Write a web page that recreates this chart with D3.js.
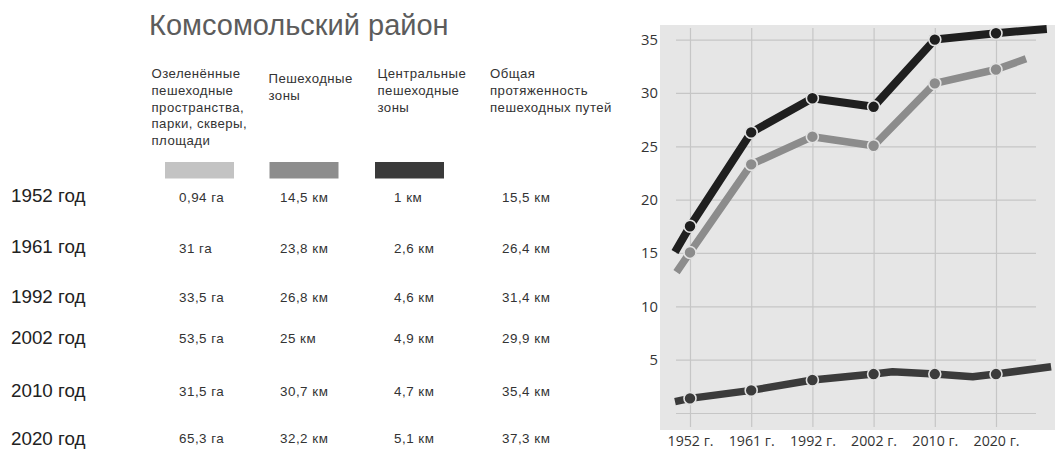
<!DOCTYPE html>
<html lang="ru">
<head>
<meta charset="utf-8">
<script src="https://cdn.jsdelivr.net/npm/d3@7/dist/d3.min.js"></script>
<style>
  html, body { margin: 0; padding: 0; background: #fff; }
  svg { display: block; }
</style>
</head>
<body>
<svg id="chart" width="1055" height="449"></svg>
<script>
// ---- Table data ----
const rowYears = ["1952 год", "1961 год", "1992 год", "2002 год", "2010 год", "2020 год"];
const greenSpacesHa = [0.94, 31, 33.5, 53.5, 31.5, 65.3];
const pedestrianZonesKm = [14.5, 23.8, 26.8, 25, 30.7, 32.2];
const centralZonesKm = [1, 2.6, 4.6, 4.9, 4.7, 5.1];
const totalPathsKm = [15.5, 26.4, 31.4, 29.9, 35.4, 37.3];

const columnHeaders = [
  ["Озеленённые", "пешеходные", "пространства,", "парки, скверы,", "площади"],
  ["Пешеходные", "зоны"],
  ["Центральные", "пешеходные", "зоны"],
  ["Общая", "протяженность", "пешеходных путей"]
];

// ---- Chart data: [position on year axis, value]; whole positions carry a marker ----
const xTickLabels = ["1952 г.", "1961 г.", "1992 г.", "2002 г.", "2010 г.", "2020 г."];
const yTickValues = [5, 10, 15, 20, 25, 30, 35];
const totalLine = [[-0.245, 15.1], [0, 17.5], [1, 26.3], [2, 29.5], [3, 28.7], [4, 35.0], [5, 35.6], [5.83, 36.0]];
const pedestrianLine = [[-0.22, 13.2], [0, 15.05], [1, 23.3], [2, 25.9], [3, 25.05], [4, 30.9], [5, 32.2], [5.49, 33.2]];
const centralLine = [[-0.245, 1.06], [0, 1.37], [1, 2.12], [2, 3.09], [3, 3.65], [3.31, 3.87], [4, 3.65], [4.62, 3.4], [5, 3.65], [5.9, 4.34]];

const svg = d3.select("#chart");
const leftFont = "'Liberation Sans', Arial, sans-serif";
const chartFont = "'Open Sans', 'Noto Sans', sans-serif";
const fmt = v => String(v).replace(".", ",");

// ---- Title ----
svg.append("text")
  .attr("x", 149).attr("y", 35)
  .attr("font-family", leftFont).attr("font-size", 29)
  .attr("fill", "#5c5c5c")
  .text("Комсомольский район");

// ---- Column headers ----
const headerX = [151.5, 268.5, 377.5, 490];
const headerTop = [78.3, 83.3, 78.3, 78.3];
const headerG = svg.append("g")
  .attr("font-family", leftFont).attr("font-size", 13.2)
  .attr("letter-spacing", 0.45).attr("fill", "#333");
columnHeaders.forEach((lines, c) => {
  const t = headerG.append("text").attr("x", headerX[c]).attr("y", headerTop[c]);
  lines.forEach((ln, i) => {
    t.append("tspan").attr("x", headerX[c]).attr("dy", i === 0 ? 0 : 16.6).text(ln);
  });
});

// ---- Legend swatches ----
const swatchColors = ["#c3c3c3", "#8d8d8d", "#3a3a3a"];
const swatchX = [165, 269.5, 375];
svg.append("g").selectAll("rect")
  .data(swatchColors)
  .join("rect")
  .attr("x", (d, i) => swatchX[i]).attr("y", 162)
  .attr("width", 69).attr("height", 16.5)
  .attr("fill", d => d);

// ---- Table rows ----
const yearBaseline = [201.7, 253.3, 302.6, 344, 396.6, 444.5];
const valueBaseline = [201.5, 253, 302.2, 342.8, 395.6, 442.5];
const valueX = [179, 280, 394, 502];
const columns = [
  greenSpacesHa.map(v => fmt(v) + " га"),
  pedestrianZonesKm.map(v => fmt(v) + " км"),
  centralZonesKm.map(v => fmt(v) + " км"),
  totalPathsKm.map(v => fmt(v) + " км")
];
const tableG = svg.append("g").attr("font-family", leftFont);
tableG.selectAll("text.year")
  .data(rowYears)
  .join("text")
  .attr("class", "year")
  .attr("x", 11).attr("y", (d, i) => yearBaseline[i])
  .attr("font-size", 18.8).attr("fill", "#222")
  .text(d => d);
columns.forEach((col, c) => {
  tableG.selectAll("text.c" + c)
    .data(col)
    .join("text")
    .attr("class", "c" + c)
    .attr("x", valueX[c]).attr("y", (d, i) => valueBaseline[i])
    .attr("font-size", 13.4).attr("letter-spacing", 0.5).attr("fill", "#333")
    .text(d => d);
});

// ---- Line chart ----
const x = d3.scaleLinear().domain([0, 5]).range([690, 996]);
const y = d3.scaleLinear().domain([0, 35]).range([413, 39.6]);

svg.append("rect")
  .attr("x", 660).attr("y", 25).attr("width", 395).attr("height", 405)
  .attr("fill", "#e6e6e6");

// Horizontal grid (including the unlabeled zero line)
svg.append("g")
  .attr("transform", "translate(676,0)")
  .call(d3.axisLeft(y).tickValues([0].concat(yTickValues)).tickSize(-(1036 - 676)).tickFormat(""))
  .call(g => g.select(".domain").remove())
  .call(g => g.selectAll(".tick line").attr("stroke", "#c6c6c6").attr("stroke-width", 1.2));

// Vertical grid
svg.append("g")
  .attr("transform", "translate(0,427)")
  .call(d3.axisBottom(x).tickValues(d3.range(6)).tickSize(-(427 - 28)).tickFormat(""))
  .call(g => g.select(".domain").remove())
  .call(g => g.selectAll(".tick line").attr("stroke", "#c6c6c6").attr("stroke-width", 1.2));

// Y labels
svg.append("g")
  .attr("transform", "translate(661,0)")
  .call(d3.axisLeft(y).tickValues(yTickValues).tickSize(0).tickPadding(3))
  .call(g => g.select(".domain").remove())
  .call(g => g.selectAll("text")
    .attr("font-family", chartFont).attr("font-size", 14.8).attr("fill", "#333"));

// X labels
svg.append("g")
  .attr("transform", "translate(0,432)")
  .call(d3.axisBottom(x).tickValues(d3.range(6)).tickFormat(i => xTickLabels[i]).tickSize(0).tickPadding(0))
  .call(g => g.select(".domain").remove())
  .call(g => g.selectAll("text")
    .attr("font-family", chartFont).attr("font-size", 14.2).attr("fill", "#333")
    .attr("dy", "0.95em"));

const line = d3.line().x(d => x(d[0])).y(d => y(d[1]));
const series = [
  { pts: centralLine, color: "#3b3b3b", width: 7.5 },
  { pts: pedestrianLine, color: "#8c8c8c", width: 7.5 },
  { pts: totalLine, color: "#1f1f1f", width: 8 }
];
series.forEach(s => {
  svg.append("path")
    .attr("d", line(s.pts))
    .attr("fill", "none")
    .attr("stroke", s.color)
    .attr("stroke-width", s.width)
    .attr("stroke-linejoin", "round")
    .attr("stroke-linecap", "butt");
  svg.append("g").selectAll("circle")
    .data(s.pts.filter(d => Number.isInteger(d[0])))
    .join("circle")
    .attr("cx", d => x(d[0])).attr("cy", d => y(d[1]))
    .attr("r", 6)
    .attr("fill", s.color)
    .attr("stroke", "#e2e2e2")
    .attr("stroke-width", 1.6);
});
</script>
</body>
</html>
